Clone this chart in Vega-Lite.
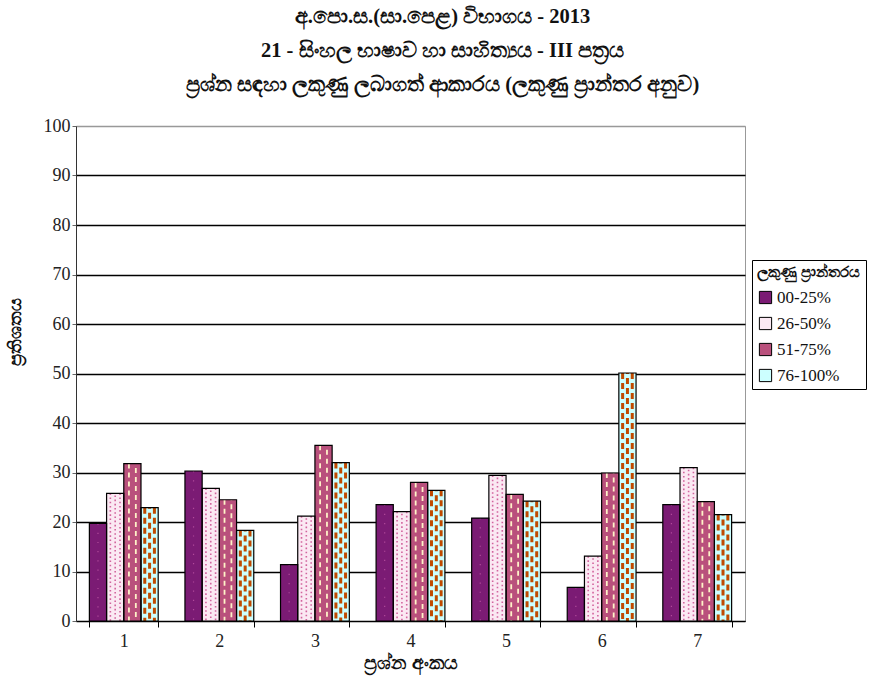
{
  "$schema": "https://vega.github.io/schema/vega-lite/v6.json",
  "autosize": "none",
  "width": 669,
  "height": 495,
  "padding": {"left": 76, "top": 126, "right": 124, "bottom": 55},
  "background": "white",
  "config": {"view": {"stroke": "#999", "strokeWidth": 1}},
  "title": {
    "text": ["අ.පො.ස.(සා.පෙළ) විභාගය - 2013", "21 - සිංහල භාෂාව හා සාහිත්‍යය - III පත්‍රය", "ප්‍රශ්න සඳහා ලකුණු ලබාගත් ආකාරය (ලකුණු ප්‍රාන්තර අනුව)"],
    "font": "Liberation Serif",
    "fontSize": 20.5,
    "fontWeight": "bold",
    "color": "#111",
    "lineHeight": 34,
    "anchor": "middle",
    "dx": 32,
    "offset": 22
  },
  "data": {"values": [
    {"q": "1", "s": "00-25%", "v": 19.7}, {"q": "1", "s": "26-50%", "v": 25.8}, {"q": "1", "s": "51-75%", "v": 31.8}, {"q": "1", "s": "76-100%", "v": 22.9},
    {"q": "2", "s": "00-25%", "v": 30.3}, {"q": "2", "s": "26-50%", "v": 26.8}, {"q": "2", "s": "51-75%", "v": 24.5}, {"q": "2", "s": "76-100%", "v": 18.3},
    {"q": "3", "s": "00-25%", "v": 11.4}, {"q": "3", "s": "26-50%", "v": 21.2}, {"q": "3", "s": "51-75%", "v": 35.5}, {"q": "3", "s": "76-100%", "v": 32.0},
    {"q": "4", "s": "00-25%", "v": 23.5}, {"q": "4", "s": "26-50%", "v": 22.1}, {"q": "4", "s": "51-75%", "v": 28.0}, {"q": "4", "s": "76-100%", "v": 26.4},
    {"q": "5", "s": "00-25%", "v": 20.8}, {"q": "5", "s": "26-50%", "v": 29.4}, {"q": "5", "s": "51-75%", "v": 25.6}, {"q": "5", "s": "76-100%", "v": 24.2},
    {"q": "6", "s": "00-25%", "v": 6.8}, {"q": "6", "s": "26-50%", "v": 13.1}, {"q": "6", "s": "51-75%", "v": 29.9}, {"q": "6", "s": "76-100%", "v": 50.1},
    {"q": "7", "s": "00-25%", "v": 23.5}, {"q": "7", "s": "26-50%", "v": 31.0}, {"q": "7", "s": "51-75%", "v": 24.1}, {"q": "7", "s": "76-100%", "v": 21.5}
  ]},
  "encoding": {
    "x": {
      "field": "q", "type": "nominal",
      "scale": {"paddingInner": 0.28, "paddingOuter": 0.14},
      "axis": {
        "title": "ප්‍රශ්න අංකය",
        "titleFontSize": 19, "titleFontWeight": "bold", "titleColor": "#111", "titlePadding": 3,
        "labelAngle": 0, "labelFont": "Liberation Serif", "labelFontSize": 18, "labelColor": "#222", "labelPadding": 5,
        "tickBand": "extent", "tickSize": 6, "tickColor": "#000", "domainColor": "#000", "domainWidth": 1.2
      }
    },
    "y": {
      "field": "v", "type": "quantitative",
      "scale": {"domain": [0, 100]},
      "axis": {
        "title": "ප්‍රතිශතය",
        "titleFontSize": 18, "titleFontWeight": "bold", "titleColor": "#111", "titleY": 205, "titlePadding": 19,
        "values": [0, 10, 20, 30, 40, 50, 60, 70, 80, 90, 100],
        "labelFont": "Liberation Serif", "labelFontSize": 18, "labelColor": "#222", "labelPadding": 2,
        "tickSize": 4, "tickColor": "#666", "domainColor": "#333",
        "grid": true, "gridColor": {"condition": {"test": "datum.value === 100", "value": "#999"}, "value": "#000"}, "gridWidth": 1.6
      }
    }
  },
  "layer": [
    {
      "mark": {"type": "bar"},
      "encoding": {
        "xOffset": {"field": "s", "type": "nominal", "sort": ["00-25%", "26-50%", "51-75%", "76-100%"]},
        "color": {
          "field": "s", "type": "nominal",
          "scale": {"domain": ["00-25%", "26-50%", "51-75%", "76-100%"], "range": ["#7B1B74", "#FBE9F3", "#B9507C", "#CCFFFF"]},
          "legend": {
            "title": "ලකුණු ප්‍රාන්තරය",
            "orient": "none", "legendX": 676, "legendY": 134,
            "titleFontSize": 15, "titleFontWeight": "bold", "titleColor": "#111", "titlePadding": 9,
            "labelFont": "Liberation Serif", "labelFontSize": 17, "labelColor": "#111", "labelOffset": 3,
            "symbolType": "square", "symbolSize": 150, "symbolStrokeColor": "#000", "symbolStrokeWidth": 1,
            "strokeColor": "#000", "padding": 5, "rowPadding": 8
          }
        }
      }
    },
    {
      "transform": [{"filter": "datum.s === '00-25%'"}],
      "mark": {"type": "rule", "stroke": "#B04A9A", "strokeWidth": 1.2, "strokeDash": [1.2, 8]},
      "encoding": {"x": {"field": "q", "type": "nominal", "bandPosition": 0.125}, "y2": {"datum": 0}}
    },
    {
      "transform": [{"filter": "datum.s === '26-50%'"}],
      "mark": {"type": "rule", "stroke": "#D2649E", "strokeWidth": 1.6, "strokeDash": [1.6, 2.6]},
      "encoding": {"x": {"field": "q", "type": "nominal", "bandPosition": 0.305}, "y2": {"datum": 0}}
    },
    {
      "transform": [{"filter": "datum.s === '26-50%'"}],
      "mark": {"type": "rule", "stroke": "#D2649E", "strokeWidth": 1.6, "strokeDash": [1.6, 2.6], "strokeDashOffset": 2.1},
      "encoding": {"x": {"field": "q", "type": "nominal", "bandPosition": 0.375}, "y2": {"datum": 0}}
    },
    {
      "transform": [{"filter": "datum.s === '26-50%'"}],
      "mark": {"type": "rule", "stroke": "#D2649E", "strokeWidth": 1.6, "strokeDash": [1.6, 2.6]},
      "encoding": {"x": {"field": "q", "type": "nominal", "bandPosition": 0.445}, "y2": {"datum": 0}}
    },
    {
      "transform": [{"filter": "datum.s === '76-100%'"}],
      "mark": {"type": "rule", "stroke": "#C04A00", "strokeWidth": 3, "strokeDash": [6, 4]},
      "encoding": {"x": {"field": "q", "type": "nominal", "bandPosition": 0.805}, "y2": {"datum": 0}}
    },
    {
      "transform": [{"filter": "datum.s === '76-100%'"}],
      "mark": {"type": "rule", "stroke": "#C04A00", "strokeWidth": 3, "strokeDash": [6, 4], "strokeDashOffset": 5},
      "encoding": {"x": {"field": "q", "type": "nominal", "bandPosition": 0.875}, "y2": {"datum": 0}}
    },
    {
      "transform": [{"filter": "datum.s === '76-100%'"}],
      "mark": {"type": "rule", "stroke": "#C04A00", "strokeWidth": 3, "strokeDash": [6, 4]},
      "encoding": {"x": {"field": "q", "type": "nominal", "bandPosition": 0.945}, "y2": {"datum": 0}}
    },
    {
      "transform": [{"filter": "datum.s === '51-75%'"}],
      "mark": {"type": "rule", "stroke": "#FFF3C8", "strokeWidth": 1.8, "strokeDash": [5, 4]},
      "encoding": {"x": {"field": "q", "type": "nominal", "bandPosition": 0.575}, "y2": {"datum": 0}}
    },
    {
      "transform": [{"filter": "datum.s === '51-75%'"}],
      "mark": {"type": "rule", "stroke": "#FFF3C8", "strokeWidth": 1.8, "strokeDash": [5, 4], "strokeDashOffset": 4.5},
      "encoding": {"x": {"field": "q", "type": "nominal", "bandPosition": 0.675}, "y2": {"datum": 0}}
    },
    {
      "mark": {"type": "bar", "fillOpacity": 0, "stroke": "#000", "strokeWidth": 1.2},
      "encoding": {"xOffset": {"field": "s", "type": "nominal", "sort": ["00-25%", "26-50%", "51-75%", "76-100%"]}}
    }
  ]
}
